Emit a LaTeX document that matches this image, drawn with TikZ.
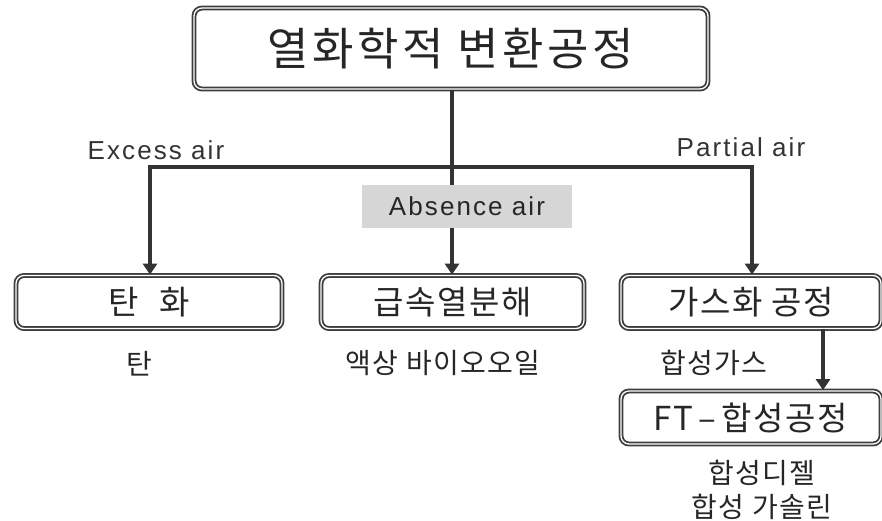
\documentclass[tikz,border=0pt]{standalone}
\usepackage{fontspec}
\usetikzlibrary{arrows.meta}
\newfontfamily\kr[LetterSpace=5]{Noto Sans CJK KR}
\newfontfamily\krwide[LetterSpace=8]{Noto Sans CJK KR}
\newfontfamily\en[LetterSpace=8]{Liberation Sans}
\definecolor{ln}{HTML}{333333}
\tikzset{
  procbox/.style={draw=ln!95, line width=1.8pt, double=white, double distance=1.3pt,
    rounded corners=8pt, minimum height=53pt, inner sep=0pt, font=\kr\fontsize{33}{35}\selectfont, text=black!85},
  lbl/.style={inner sep=0pt, font=\kr\fontsize{28}{30}\selectfont, text=black!85},
  enlbl/.style={inner sep=0pt, font=\en\fontsize{26}{28}\selectfont, text=black!80},
  conn/.style={draw=ln, line width=3.6pt},
  arr/.style={conn, -{Triangle[width=14pt,length=11pt]}}
}
\begin{document}
\begin{tikzpicture}[x=1pt,y=-1pt]
\useasboundingbox (0,0) rectangle (882,520);
\node[procbox, minimum width=514pt, minimum height=81pt, font=\krwide\fontsize{45}{47}\selectfont] (top) at (451,48.5) {열화학적 변환공정};
\node[procbox, minimum width=266pt] (tan) at (149,302) {탄\hspace{20pt}화};
\node[procbox, minimum width=263pt] (pyro) at (452.5,302) {급속열분해};
\node[procbox, minimum width=260pt] (gas) at (751,302) {가스화 공정};
\node[procbox, minimum width=260pt] (ft) at (751,417.5) {FT\,–\,합성공정};
\coordinate (j) at (452,167);
\coordinate (jl) at (150,167);
\coordinate (jr) at (752,167);
\draw[conn] (top.south -| j) -- (j);
\draw[conn, line cap=rect] (jl) -- (jr);
\node[enlbl] (excess) at (156,150) {Excess air};
\node[enlbl] (partial) at (741,147) {Partial air};
\draw[arr] (jl) -- (jl |- tan.north);
\draw[arr] (jr) -- (jr |- gas.north);
\draw[arr] (j) -- (j |- pyro.north);
\node[enlbl, fill=black!16, minimum width=210pt, minimum height=43pt, text=black!85] (absence) at (467,206.5) {Absence air};
\draw[arr] (gas.south -| 823,0) -- (ft.north -| 823,0);
\node[lbl] (tanout) at (139,364) {탄};
\node[lbl] (oil) at (443,363) {액상 바이오오일};
\node[lbl] (syngas) at (714,363) {합성가스};
\node[lbl] (diesel) at (762,473) {합성디젤};
\node[lbl] (gasoline) at (762,507) {합성 가솔린};
\end{tikzpicture}
\end{document}
